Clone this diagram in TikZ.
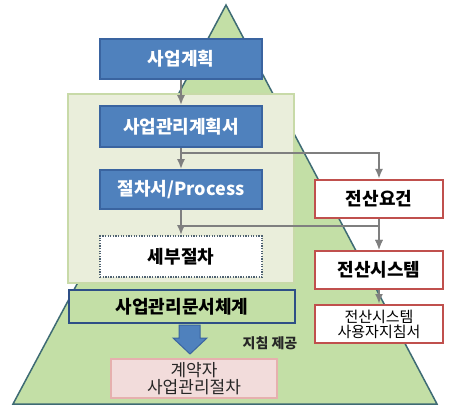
\documentclass[tikz,border=0pt]{standalone}
\usepackage{fontspec}
\setmainfont{Noto Sans CJK KR}
\usetikzlibrary{arrows.meta}
\definecolor{trifill}{HTML}{C3DFA6}
\definecolor{triedge}{HTML}{3E6B74}
\definecolor{panelfill}{HTML}{EAEEDB}
\definecolor{paneledge}{HTML}{C8DAA8}
\definecolor{bluefill}{HTML}{4F81BD}
\definecolor{blueedge}{HTML}{3A64A0}
\definecolor{darkblue}{HTML}{2E4F86}
\definecolor{rededge}{HTML}{C0504D}
\definecolor{pinkfill}{HTML}{F2DCDB}
\definecolor{pinkedge}{HTML}{E6B0AE}
\definecolor{arrgray}{HTML}{7F7F7F}
\definecolor{dotedge}{HTML}{4F6272}
\tikzset{
  bigbold/.style={font=\fontsize{18}{20}\selectfont\bfseries},
  bluebox/.style={draw=blueedge, line width=1.5pt, fill=bluefill, text=white,
    bigbold, inner sep=0pt, minimum width=162pt},
  redbox/.style={draw=rededge, line width=2pt, fill=white, text=black,
    inner sep=0pt, minimum width=128pt, minimum height=38pt},
  arr/.style={draw=arrgray, line width=2.4pt, -{Latex[width=8pt,length=10pt]}},
}
\begin{document}
\begin{tikzpicture}[x=1pt,y=-1pt]
\useasboundingbox (0,0) rectangle (453,409);
\fill[white] (0,0) rectangle (453,409);
% pyramid
\draw[fill=trifill, draw=triedge, line width=1.5pt] (13,404) -- (226,5) -- (437,404) -- cycle;
% panel
\draw[fill=panelfill, draw=paneledge, line width=1.5pt] (68,94) rectangle (294,283);
% left column
\node[bluebox, minimum height=40pt] (plan) at (181,59) {사업계획};
\node[bluebox, minimum height=41pt] (mgmt) at (181,126.5) {사업관리계획서};
\node[bluebox, minimum height=39pt] (proc) at (181,189.5) {절차서/Process};
\node[draw=dotedge, line width=1.6pt, dash pattern=on 1.3pt off 1.3pt, fill=white,
  minimum width=162pt, minimum height=41pt, inner sep=0pt, bigbold] (detail) at (181,256.5) {세부절차};
\node[draw=darkblue, line width=2pt, fill=trifill, minimum width=226pt, minimum height=33pt,
  inner sep=0pt, bigbold] (docsys) at (182,306.5) {사업관리문서체계};
\node[draw=pinkedge, line width=2pt, fill=pinkfill, minimum width=166pt, minimum height=39pt,
  inner sep=0pt, align=center, text=black!85, font=\fontsize{17}{16.5}\selectfont] (contract) at (194,378.5) {계약자\\사업관리절차};
% right column
\node[redbox, bigbold] (req) at (379,199) {전산요건};
\node[redbox, bigbold] (sys) at (379,270) {전산시스템};
\node[redbox, align=center, font=\fontsize{15}{15}\selectfont] (guide) at (379,324) {전산시스템\\사용자지침서};
% label
\node[font=\fontsize{14}{16}\selectfont\bfseries, text=black!85] (lbl) at (270,343) {지침 제공};
% connectors
\coordinate (j1) at (181,153);
\coordinate (j2) at (181,226);
\draw[arr] (plan) -- (mgmt);
\draw[arr] (mgmt) -- (proc);
\draw[arr] (proc) -- (detail);
\draw[arr] (j1) -| (req.north);
\draw[arr] (j2) -| (sys.north);
\draw[arr] (req) -- (sys);
\draw[arr] (sys) -- (guide);
% fat arrow
\draw[fill=bluefill, draw=blueedge, line width=1pt]
  (179,325) -- (200,325) -- (200,338) -- (207,338) -- (190,354) -- (173,338) -- (179,338) -- cycle;
\end{tikzpicture}
\end{document}
